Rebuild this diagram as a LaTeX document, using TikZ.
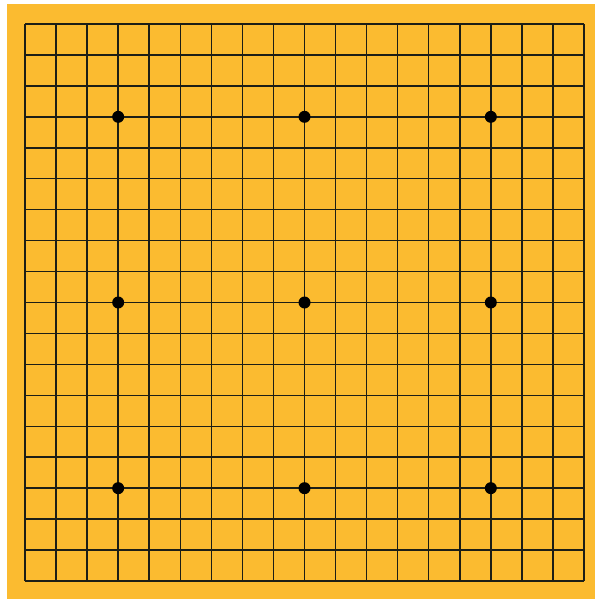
\documentclass[tikz,border=0pt]{standalone}
\usepackage{xcolor}
\usepackage{tikz}
\usetikzlibrary{calc}
\definecolor{boardwood}{RGB}{251,187,48}
\definecolor{gridink}{RGB}{28,30,22}

\begin{document}
\begin{tikzpicture}[
    x=1pt, y=-1pt,
    board/.style={fill=boardwood, draw=none},
    gridline/.style={draw=gridink, line width=1.5pt},
    hoshi/.style={circle, fill=black, inner sep=0pt, minimum size=12pt}
]
    \useasboundingbox (0,0) rectangle (595,601);

    % Board
    \fill[board] (7,4) rectangle (595,599);

    % Corner anchors of the 19x19 grid
    \coordinate (nw) at (25,24);
    \coordinate (se) at (584,581);

    % Grid lines
    \foreach \i in {0,...,18} {
        \draw[gridline] ($(nw)!\i/18!(nw -| se)$) -- ($(nw |- se)!\i/18!(se)$);
        \draw[gridline] ($(nw)!\i/18!(nw |- se)$) -- ($(nw -| se)!\i/18!(se)$);
    }

    % Star points
    \foreach \c in {3,9,15} {
        \foreach \r in {3,9,15} {
            \node[hoshi] (star-\c-\r) at ($(nw) + ({\c*559/18},{\r*557/18})$) {};
        }
    }
\end{tikzpicture}
\end{document}
